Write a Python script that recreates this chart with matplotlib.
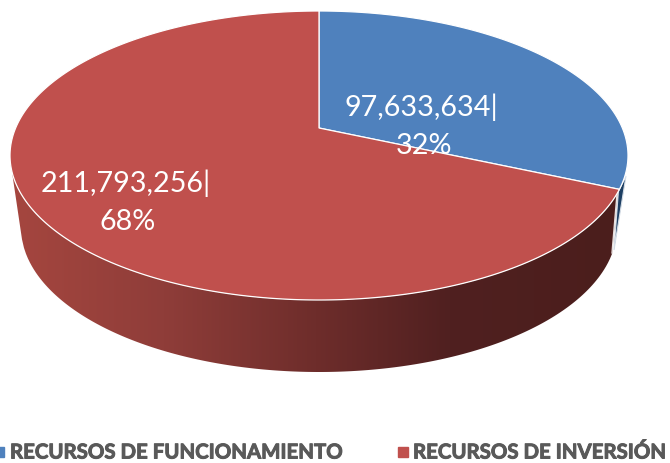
import numpy as np
import matplotlib
matplotlib.use('Agg')
import matplotlib.pyplot as plt
from matplotlib.colors import LinearSegmentedColormap
from matplotlib.patches import Polygon
import matplotlib.patheffects as pe

labels = ['RECURSOS DE FUNCIONAMIENTO', 'RECURSOS DE INVERSIÓN']
values = [97633634, 211793256]
value_text = ['97,633,634', '211,793,256']
pct_text = ['32%', '68%']
colors = ['#4f81bd', '#c0504d']

W, H = 670, 464
cx, cy, a, b = 319, 156.5, 309, 144.5   # top ellipse
apex = np.array([319, 129.0])
cy2, a2, b2 = 228.5, 298, 144.5          # bottom ellipse


def rim_point(t):
    # ray from the apex, flattened direction, meets the top ellipse
    d = np.array([a * np.sin(t), -b * np.cos(t)])
    p = apex - np.array([cx, cy])
    A = (d[0] / a) ** 2 + (d[1] / b) ** 2
    B = 2 * (p[0] * d[0] / a ** 2 + p[1] * d[1] / b ** 2)
    C = (p[0] / a) ** 2 + (p[1] / b) ** 2 - 1
    s = (-B + np.sqrt(B * B - 4 * A * C)) / (2 * A)
    return apex + s * d


def wall_poly(x1):
    xs = np.linspace(12, x1, 300)
    top = cy + b * np.sqrt(np.clip(1 - ((xs - cx) / a) ** 2, 0, 1))
    xb = np.linspace(cx - a2 + 1, 612, 300)
    bot = cy2 + b2 * np.sqrt(np.clip(1 - ((xb - cx) / a2) ** 2, 0, 1))
    return np.vstack([np.c_[xs, top], np.c_[xb[::-1], bot[::-1]]])


fig = plt.figure(figsize=(6.7, 4.64), dpi=100)
ax = fig.add_axes([0, 0, 1, 1])
ax.set_xlim(0, W)
ax.set_ylim(H, 0)
ax.axis('off')

split = 2 * np.pi * values[0] / sum(values)
ex = rim_point(split)

# blue sliver behind the red wall
ax.add_patch(Polygon([[ex[0] - 1, ex[1] + 2], [626, 177], [614, 251]], closed=True,
                     fc='#1d3f63', ec='#d5dde6', lw=0.8, zorder=1))

# red wall with horizontal shading
cmap = LinearSegmentedColormap.from_list('wall', [
    (0.0, '#a5463f'), (0.25, '#8f3d39'), (0.5, '#6e2d2b'),
    (0.72, '#502020'), (1.0, '#4b1e1c')])
wall = Polygon(wall_poly(ex[0] - 2), closed=True, fc='none', ec='none')
ax.add_patch(wall)
im = ax.imshow(np.linspace(0, 1, 256).reshape(1, -1), cmap=cmap, aspect='auto',
               extent=[12, ex[0], 380, 150], zorder=2)
im.set_clip_path(wall)
ax.plot([ex[0] - 2, 612], [ex[1], 254], color='#e8e0df', lw=1.0, zorder=2)
ax.set_xlim(0, W)
ax.set_ylim(H, 0)

# top slices
ts_blue = np.linspace(0, split, 200)
ts_red = np.linspace(split, 2 * np.pi, 400)
blue_pts = np.vstack([apex, [rim_point(t) for t in ts_blue]])
red_pts = np.vstack([apex, [rim_point(t) for t in ts_red]])
ax.add_patch(Polygon(blue_pts, closed=True, fc=colors[0], ec='white', lw=0.9, zorder=3))
ax.add_patch(Polygon(red_pts, closed=True, fc=colors[1], ec='white', lw=0.9, zorder=3))

# data labels
lab_font = dict(color='white', fontsize=20.7, family='Lato', ha='center', va='center', zorder=4)
ax.text(421, 107, value_text[0] + '|', **lab_font)
ax.text(424, 146, pct_text[0], **lab_font)
ax.text(126, 183, value_text[1] + '|', **lab_font)
ax.text(128, 222, pct_text[1], **lab_font)

# legend, the stroke thickens the lettering
leg_font = dict(color='#595959', fontsize=14.7, family='Lato', fontweight='bold',
                ha='left', va='center',
                path_effects=[pe.withStroke(linewidth=0.7, foreground='#595959')])
ax.plot([-1], [453], 's', color=colors[0], ms=7)
ax.text(10, 453.5, labels[0], **leg_font)
ax.plot([403], [453], 's', color=colors[1], ms=7)
ax.text(413, 453.5, labels[1], **leg_font)

fig.savefig('out.png', dpi=100)
